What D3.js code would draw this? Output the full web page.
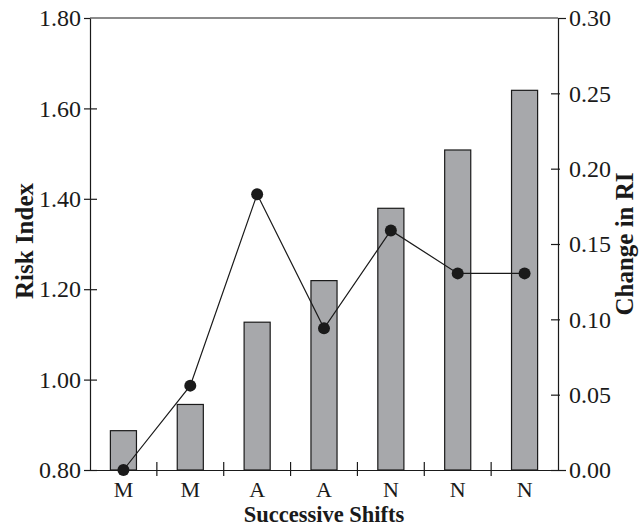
<!DOCTYPE html>
<html><head><meta charset="utf-8">
<script src="https://cdn.jsdelivr.net/npm/d3@7"></script>
<style>body{margin:0;background:#fff}</style>
</head><body>
<script>
const categories = ["M","M","A","A","N","N","N"];
const riskIndex = [0.887, 0.945, 1.127, 1.219, 1.379, 1.508, 1.640];
const changeRI = [0.000, 0.056, 0.183, 0.094, 0.159, 0.1305, 0.1305];
const leftTicks = [0.80, 1.00, 1.20, 1.40, 1.60, 1.80];
const rightTicks = [0.00, 0.05, 0.10, 0.15, 0.20, 0.25, 0.30];

const W = 639, H = 527;
const m = {l: 90, r: 81, t: 18, b: 57};
const iw = W - m.l - m.r, ih = H - m.t - m.b;
const font = "'Liberation Serif','Times New Roman',serif";
const ink = "#1a1a1a";

const svg = d3.select("body").append("svg").attr("width", W).attr("height", H);
const g = svg.append("g").attr("transform", `translate(${m.l},${m.t})`);

const x = d3.scaleBand().domain(d3.range(categories.length)).range([0, iw]).paddingInner(0).paddingOuter(0);
const yL = d3.scaleLinear().domain([0.8, 1.8]).range([ih, 0]);
const yR = d3.scaleLinear().domain([0, 0.3]).range([ih, 0]);

// bars
const bw = x.bandwidth() * 0.39;
g.selectAll("rect.bar").data(riskIndex).join("rect")
  .attr("x", (d, i) => x(i) + x.bandwidth() / 2 - bw / 2)
  .attr("y", d => yL(d))
  .attr("width", bw)
  .attr("height", d => ih - yL(d))
  .attr("fill", "#a7a8ab").attr("stroke", ink).attr("stroke-width", 1.2);

// frame (top line)
g.append("line").attr("x1", 0).attr("x2", iw).attr("y1", 0).attr("y2", 0).attr("stroke", ink).attr("stroke-width", 1.2);

// left axis
const la = g.append("g").call(d3.axisLeft(yL).tickValues(leftTicks).tickFormat(d3.format(".2f")).tickSize(6).tickSizeOuter(0));
la.selectAll(".tick line").attr("x1", -6).attr("x2", d => d === 1.8 ? 0 : 7);
// right axis
const ra = g.append("g").attr("transform", `translate(${iw},0)`)
  .call(d3.axisRight(yR).tickValues(rightTicks).tickFormat(d3.format(".2f")).tickSize(2).tickSizeOuter(0));
ra.selectAll(".tick line").attr("x1", d => d === 0.3 ? 0 : -7).attr("x2", d => (d === 0 || d === 0.3) ? 8 : 2);
// bottom axis
const ba = g.append("g").attr("transform", `translate(0,${ih})`)
  .call(d3.axisBottom(x).tickFormat(i => categories[i]).tickSize(0).tickSizeOuter(0).tickPadding(11));
// boundary ticks
g.selectAll("line.bt").data(d3.range(1, categories.length)).join("line")
  .attr("x1", i => x(i)).attr("x2", i => x(i))
  .attr("y1", ih - 8).attr("y2", ih + 6)
  .attr("stroke", ink).attr("stroke-width", 1.2);

[la, ra, ba].forEach(a => {
  a.select(".domain").attr("stroke", ink).attr("stroke-width", 1.2);
  a.selectAll(".tick line").attr("stroke", ink).attr("stroke-width", 1.2);
  a.selectAll("text").attr("font-family", font).attr("font-size", 24).attr("fill", ink);
});
ba.selectAll("text").attr("font-size", 22);
la.selectAll("text").attr("x", -9);
ra.selectAll("text").attr("x", 11);

// line
const line = d3.line().x((d, i) => x(i) + x.bandwidth() / 2).y(d => yR(d));
g.append("path").datum(changeRI).attr("d", line).attr("fill", "none").attr("stroke", ink).attr("stroke-width", 1.2);
g.selectAll("circle.pt").data(changeRI).join("circle")
  .attr("cx", (d, i) => x(i) + x.bandwidth() / 2).attr("cy", d => yR(d)).attr("r", 6).attr("fill", ink);

// titles
svg.append("text").attr("x", m.l + iw / 2).attr("y", 522).attr("text-anchor", "middle")
  .attr("font-family", font).attr("font-weight", "bold").attr("font-size", 22.5).attr("fill", ink).text("Successive Shifts");
svg.append("text").attr("transform", `translate(33,${m.t + ih / 2 - 3}) rotate(-90)`).attr("text-anchor", "middle")
  .attr("font-family", font).attr("font-weight", "bold").attr("font-size", 25).attr("fill", ink).text("Risk Index");
svg.append("text").attr("transform", `translate(633,${m.t + ih / 2}) rotate(-90)`).attr("text-anchor", "middle")
  .attr("font-family", font).attr("font-weight", "bold").attr("font-size", 25).attr("fill", ink).text("Change in RI");
</script>
</body></html>
